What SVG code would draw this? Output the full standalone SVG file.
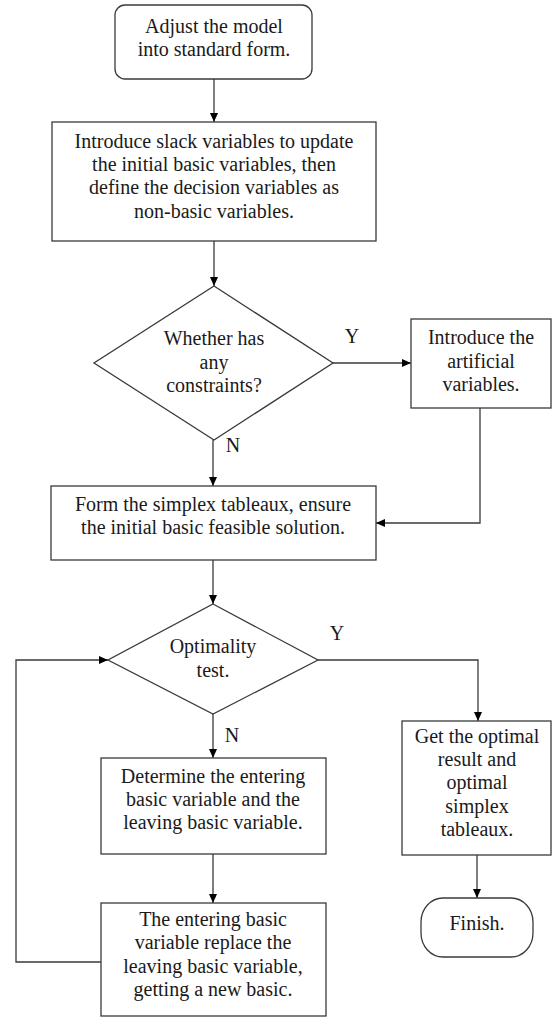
<svg xmlns="http://www.w3.org/2000/svg" width="552" height="1019" viewBox="0 0 552 1019" font-family="'Liberation Serif', 'Times New Roman', Times, 'DejaVu Serif', serif">
<defs>
<marker id="ah" markerUnits="userSpaceOnUse" markerWidth="9" markerHeight="9" viewBox="0 0 9 9" refX="9" refY="4.5" orient="auto">
<path d="M0,0.5 L9,4.5 L0,8.5 z" fill="#000"/>
</marker>
<style>
.n{fill:#fff;stroke:#3a3a3a;stroke-width:1.3}
.c{fill:none;stroke:#3a3a3a;stroke-width:1.3}
.a{marker-end:url(#ah)}
text{font-family:'Liberation Serif','Times New Roman',Times,'DejaVu Serif',serif;font-size:20px;fill:#1a1a1a;text-anchor:middle}
</style>
</defs>
<rect width="552" height="1019" fill="#fff"/>
<g id="connectors">
<line class="c a" x1="214" y1="79" x2="214" y2="122"/>
<line class="c a" x1="214" y1="241" x2="214" y2="286"/>
<line class="c a" x1="333" y1="363" x2="411" y2="363"/>
<line class="c a" x1="213" y1="440" x2="213" y2="486"/>
<polyline class="c a" points="480,408 480,523 376,523"/>
<line class="c a" x1="213" y1="560" x2="213" y2="604"/>
<polyline class="c a" points="318,660 478,660 478,721"/>
<line class="c a" x1="213" y1="714" x2="213" y2="758"/>
<line class="c a" x1="213" y1="854" x2="213" y2="903"/>
<polyline class="c a" points="101,962 16,962 16,660 108,660"/>
<line class="c a" x1="477" y1="855" x2="477" y2="898"/>
<text x="352" y="343">Y</text>
<text x="233" y="452">N</text>
<text x="337" y="640">Y</text>
<text x="232" y="742">N</text>
</g>
<g id="start">
<rect class="n" x="115" y="5" width="197" height="74" rx="10"/>
<text x="214" y="33">Adjust the model</text>
<text x="214" y="56">into standard form.</text>
</g>
<g id="slack">
<rect class="n" x="52" y="122" width="324" height="119"/>
<text x="214" y="148">Introduce slack variables to update</text>
<text x="214" y="171">the initial basic variables, then</text>
<text x="214" y="194">define the decision variables as</text>
<text x="214" y="218">non-basic variables.</text>
</g>
<g id="constraints">
<polygon class="n" points="214,286 333,363 214,440 94,363"/>
<text x="214" y="345">Whether has</text>
<text x="214" y="369">any</text>
<text x="214" y="392">constraints?</text>
</g>
<g id="artificial">
<rect class="n" x="411" y="319" width="140" height="89"/>
<text x="481" y="344">Introduce the</text>
<text x="481" y="368">artificial</text>
<text x="481" y="391">variables.</text>
</g>
<g id="tableaux">
<rect class="n" x="51" y="486" width="325" height="74"/>
<text x="213" y="511">Form the simplex tableaux, ensure</text>
<text x="213" y="534">the initial basic feasible solution.</text>
</g>
<g id="optimality">
<polygon class="n" points="213,604 318,660 213,714 108,660"/>
<text x="213" y="653">Optimality</text>
<text x="213" y="677">test.</text>
</g>
<g id="determine">
<rect class="n" x="101" y="758" width="225" height="96"/>
<text x="213" y="783">Determine the entering</text>
<text x="213" y="806">basic variable and the</text>
<text x="213" y="829">leaving basic variable.</text>
</g>
<g id="replace">
<rect class="n" x="101" y="903" width="225" height="113"/>
<text x="213" y="926">The entering basic</text>
<text x="213" y="949">variable replace the</text>
<text x="213" y="973">leaving basic variable,</text>
<text x="213" y="996">getting a new basic.</text>
</g>
<g id="optimal">
<rect class="n" x="402" y="721" width="149" height="134"/>
<text x="477" y="743">Get the optimal</text>
<text x="477" y="766">result and</text>
<text x="477" y="789">optimal</text>
<text x="477" y="813">simplex</text>
<text x="477" y="836">tableaux.</text>
</g>
<g id="finish">
<rect class="n" x="421" y="898" width="112" height="59" rx="22" ry="24"/>
<text x="477" y="930">Finish.</text>
</g>
</svg>
